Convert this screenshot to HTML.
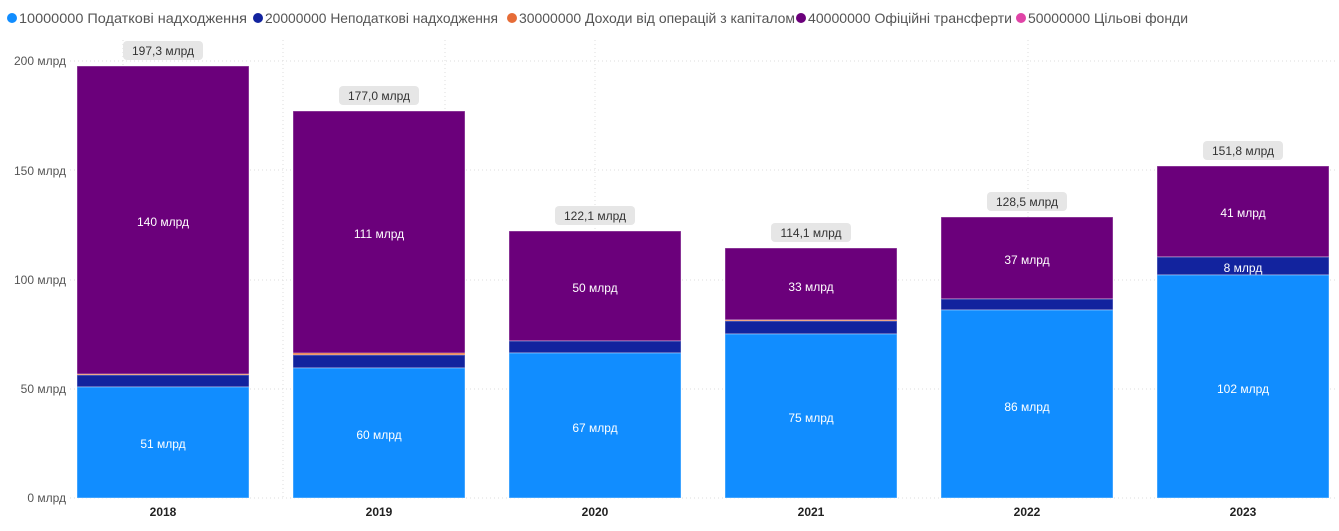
<!DOCTYPE html>
<html><head><meta charset="utf-8"><style>
body{margin:0;width:1339px;height:526px;background:#fff;font-family:"Liberation Sans","DejaVu Sans",sans-serif;overflow:hidden}
</style></head><body>
<svg width="1339" height="526" xmlns="http://www.w3.org/2000/svg" font-family="Liberation Sans, DejaVu Sans, sans-serif">
<g font-size="14" fill="#555">
<circle cx="12" cy="18" r="5" fill="#118dff"/><text x="19" y="23" textLength="228" lengthAdjust="spacingAndGlyphs">10000000 Податкові надходження</text>
<circle cx="258" cy="18" r="5" fill="#12239e"/><text x="265" y="23" textLength="233" lengthAdjust="spacingAndGlyphs">20000000 Неподаткові надходження</text>
<circle cx="512" cy="18" r="5" fill="#e66c37"/><text x="519" y="23" textLength="276" lengthAdjust="spacingAndGlyphs">30000000 Доходи від операцій з капіталом</text>
<circle cx="801" cy="18" r="5" fill="#6b007b"/><text x="808" y="23" textLength="204" lengthAdjust="spacingAndGlyphs">40000000 Офіційні трансферти</text>
<circle cx="1021" cy="18" r="5" fill="#e044a7"/><text x="1028" y="23" textLength="160" lengthAdjust="spacingAndGlyphs">50000000 Цільові фонди</text>
</g>
<g stroke="#ddd" stroke-dasharray="1,3">
<line x1="70" y1="61" x2="1335" y2="61"/><line x1="70" y1="170" x2="1335" y2="170"/><line x1="70" y1="280" x2="1335" y2="280"/><line x1="70" y1="389" x2="1335" y2="389"/><line x1="70" y1="498" x2="1335" y2="498"/>
<line x1="123" y1="40" x2="123" y2="498"/><line x1="283" y1="40" x2="283" y2="498"/><line x1="445" y1="40" x2="445" y2="498"/><line x1="595" y1="40" x2="595" y2="498"/><line x1="1028" y1="40" x2="1028" y2="498"/>
</g>
<g font-size="12" fill="#555" text-anchor="end">
<text x="66" y="65">200 млрд</text><text x="66" y="175">150 млрд</text><text x="66" y="284">100 млрд</text><text x="66" y="393">50 млрд</text><text x="66" y="502">0 млрд</text>
</g>
<g stroke="#fff" stroke-opacity="0.4" stroke-width="1">
<rect x="77" y="66" width="172" height="309" fill="#6b007b"/><rect x="77" y="374" width="172" height="2" fill="#e66c37"/><rect x="77" y="375" width="172" height="12" fill="#12239e"/><rect x="77" y="387" width="172" height="111" fill="#118dff"/>
<rect x="293" y="111" width="172" height="243" fill="#6b007b"/><rect x="293" y="353" width="172" height="2" fill="#e66c37"/><rect x="293" y="355" width="172" height="13" fill="#12239e"/><rect x="293" y="368" width="172" height="130" fill="#118dff"/>
<rect x="509" y="231" width="172" height="110" fill="#6b007b"/><rect x="509" y="341" width="172" height="12" fill="#12239e"/><rect x="509" y="353" width="172" height="145" fill="#118dff"/>
<rect x="725" y="248" width="172" height="72" fill="#6b007b"/><rect x="725" y="320" width="172" height="2" fill="#e66c37"/><rect x="725" y="321" width="172" height="13" fill="#12239e"/><rect x="725" y="334" width="172" height="164" fill="#118dff"/>
<rect x="941" y="217" width="172" height="82" fill="#6b007b"/><rect x="941" y="299" width="172" height="11" fill="#12239e"/><rect x="941" y="310" width="172" height="188" fill="#118dff"/>
<rect x="1157" y="166" width="172" height="91" fill="#6b007b"/><rect x="1157" y="257" width="172" height="18" fill="#12239e"/><rect x="1157" y="275" width="172" height="223" fill="#118dff"/>
</g>
<g font-size="12" fill="#fff" text-anchor="middle">
<text x="163" y="226">140 млрд</text><text x="163" y="448">51 млрд</text>
<text x="379" y="238">111 млрд</text><text x="379" y="439">60 млрд</text>
<text x="595" y="292">50 млрд</text><text x="595" y="432">67 млрд</text>
<text x="811" y="291">33 млрд</text><text x="811" y="422">75 млрд</text>
<text x="1027" y="264">37 млрд</text><text x="1027" y="411">86 млрд</text>
<text x="1243" y="217">41 млрд</text><text x="1243" y="272">8 млрд</text><text x="1243" y="393">102 млрд</text>
</g>
<g fill="#e6e6e6">
<rect x="123" y="41" width="80" height="19" rx="4"/><rect x="339" y="86" width="80" height="19" rx="4"/><rect x="555" y="206" width="80" height="19" rx="4"/><rect x="771" y="223" width="80" height="19" rx="4"/><rect x="987" y="192" width="80" height="19" rx="4"/><rect x="1203" y="141" width="80" height="19" rx="4"/>
</g>
<g font-size="12" fill="#333" text-anchor="middle">
<text x="163" y="55">197,3 млрд</text><text x="379" y="100">177,0 млрд</text><text x="595" y="220">122,1 млрд</text><text x="811" y="237">114,1 млрд</text><text x="1027" y="206">128,5 млрд</text><text x="1243" y="155">151,8 млрд</text>
</g>
<g font-size="12" font-weight="bold" fill="#222" text-anchor="middle">
<text x="163" y="516">2018</text><text x="379" y="516">2019</text><text x="595" y="516">2020</text><text x="811" y="516">2021</text><text x="1027" y="516">2022</text><text x="1243" y="516">2023</text>
</g>
</svg>
</body></html>
